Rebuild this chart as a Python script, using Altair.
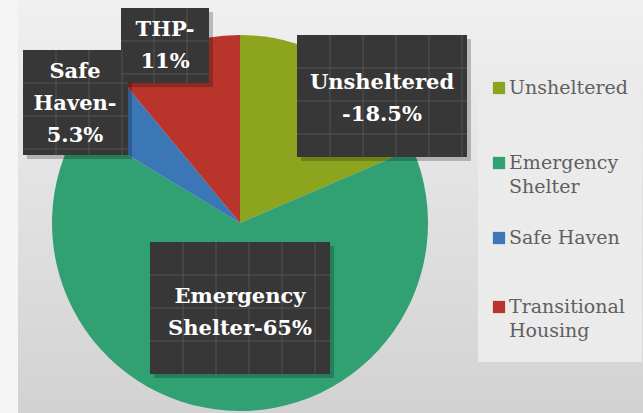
import altair as alt
import pandas as pd

# ---- data ----
categories = ["Unsheltered", "Emergency Shelter", "Safe Haven", "Transitional Housing"]
values = [18.5, 65.0, 5.3, 11.0]
colors = ["#8da41f", "#31a072", "#3b76b6", "#b9352c"]
slice_labels = ["Unsheltered\n-18.5%", "Emergency\nShelter-65%", "Safe\nHaven-\n5.3%", "THP-\n11%"]
legend_labels = ["Unsheltered", "Emergency\nShelter", "Safe Haven", "Transitional\nHousing"]

W, H = 643, 413
CX, CY, R = 240, 223, 188
LH = 32

# ---- layout (annotation boxes, legend) ----
label_boxes = {  # x0, y0, x1, y1
    "Unsheltered": (297, 35, 467, 157),
    "Emergency Shelter": (150, 242, 330, 374),
    "Safe Haven": (23, 50, 128, 155),
    "Transitional Housing": (121, 8, 209, 83),
}
label_centers = {  # visual centre of text block
    "Unsheltered": (382, 99),
    "Emergency Shelter": (240, 313),
    "Safe Haven": (75, 104),
    "Transitional Housing": (165, 46),
}
legend_y = [88, 163, 238, 307]

pie_df = pd.DataFrame({"cat": categories, "value": values, "idx": range(len(categories))})

box_rows = []
text_rows = []
grid_rows = []
for cat, lab in zip(categories, slice_labels):
    x0, y0, x1, y1 = label_boxes[cat]
    box_rows.append({"x0": x0, "y0": y0, "x1": x1, "y1": y1,
                     "sx0": x0 + 4, "sy0": y0 + 4, "sx1": x1 + 4, "sy1": y1 + 4})
    nlines = lab.count("\n") + 1
    cx, cy = label_centers[cat]
    text_rows.append({"x": cx, "y": cy - (nlines - 1) * LH / 2, "t": lab})
    gx = x0 + 33
    while gx < x1 - 3:
        grid_rows.append({"a": gx, "b": y0, "c": gx, "d": y1})
        gx += 33
    gy = y0 + 33
    while gy < y1 - 3:
        grid_rows.append({"a": x0, "b": gy, "c": x1, "d": gy})
        gy += 33
box_df = pd.DataFrame(box_rows)
text_df = pd.DataFrame(text_rows)
grid_df = pd.DataFrame(grid_rows)

leg_df = pd.DataFrame({"cat": categories, "t": legend_labels, "y": legend_y})

one = pd.DataFrame({"a": [0]})

bg = alt.Chart(one).mark_rect(
    color=alt.Gradient(gradient="linear", x1=0, x2=0, y1=0, y2=1,
                       stops=[alt.GradientStop(color="#f0f0f0", offset=0),
                              alt.GradientStop(color="#d2d2d2", offset=1)])
).encode(x=alt.value(18), x2=alt.value(W), y=alt.value(0), y2=alt.value(H))

left_strip = alt.Chart(one).mark_rect(color="#f5f5f5").encode(
    x=alt.value(0), x2=alt.value(18), y=alt.value(0), y2=alt.value(H))

legend_box = alt.Chart(one).mark_rect(color="#ebebeb").encode(
    x=alt.value(478), x2=alt.value(642), y=alt.value(65), y2=alt.value(362))

pie = alt.Chart(pie_df).mark_arc(outerRadius=R).encode(
    theta=alt.Theta("value:Q", stack=True),
    color=alt.Color("cat:N", scale=alt.Scale(domain=categories, range=colors), legend=None),
    order=alt.Order("idx:Q"),
    x=alt.value(CX), y=alt.value(CY),
)

shadow = alt.Chart(box_df).mark_rect(color="#000000", opacity=0.22).encode(
    x=alt.X("sx0:Q", scale=None), x2="sx1:Q",
    y=alt.Y("sy0:Q", scale=None), y2="sy1:Q")

boxes = alt.Chart(box_df).mark_rect(color="#373737").encode(
    x=alt.X("x0:Q", scale=None), x2="x1:Q",
    y=alt.Y("y0:Q", scale=None), y2="y1:Q")

grid = alt.Chart(grid_df).mark_rule(color="#555555", strokeWidth=1).encode(
    x=alt.X("a:Q", scale=None), x2="c:Q",
    y=alt.Y("b:Q", scale=None), y2="d:Q")

texts = alt.Chart(text_df).mark_text(
    font="DejaVu Serif", fontWeight="bold", fontSize=21, color="white",
    lineBreak="\n", lineHeight=LH, align="center", baseline="middle"
).encode(x=alt.X("x:Q", scale=None), y=alt.Y("y:Q", scale=None), text="t:N")

leg_sq = alt.Chart(leg_df).mark_square(size=150, opacity=1).encode(
    x=alt.value(499), y=alt.Y("y:Q", scale=None),
    color=alt.Color("cat:N", scale=alt.Scale(domain=categories, range=colors), legend=None))

leg_txt = alt.Chart(leg_df).mark_text(
    font="DejaVu Serif", fontSize=19, color="#606060", align="left",
    baseline="middle", lineBreak="\n", lineHeight=24
).encode(x=alt.value(509), y=alt.Y("y:Q", scale=None), text="t:N")

chart = alt.layer(bg, left_strip, legend_box, pie, shadow, boxes, grid, texts, leg_sq, leg_txt).properties(
    width=W, height=H, padding=0, autosize=alt.AutoSizeParams(type="none")
).configure_view(stroke=None).configure(background="#f5f5f5")

chart.save("out.html", embed_options={"renderer": "svg", "actions": False})
